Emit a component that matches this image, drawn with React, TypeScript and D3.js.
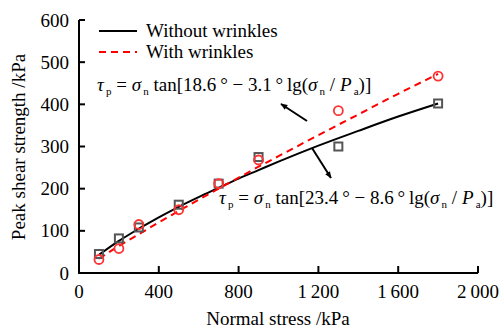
import React from 'react';
import * as d3 from 'd3';

// measured points
const stress = [100, 200, 300, 500, 700, 900, 1300, 1800];
const withoutWrinkles = [45, 82, 108, 162, 212, 275, 300, 402];
const withWrinkles = [32, 58, 115, 150, 212, 268, 385, 467];

// fitted curves
const fitStress = [100, 200, 300, 400, 500, 600, 700, 800, 900, 1000, 1200, 1400, 1600, 1800];
const fitWithout = [43, 76, 105, 132, 157, 180, 202, 224, 244, 264, 302, 337, 371, 402];
const fitWith = [34, 64, 92, 120, 147, 174, 200, 226, 252, 277, 327, 376, 425, 472];

const xTicks = [0, 400, 800, 1200, 1600, 2000];
const yTicks = [0, 100, 200, 300, 400, 500, 600];

const fmtX = (d: number) => (d >= 1000 ? `${Math.floor(d / 1000)}\u2009${String(d % 1000).padStart(3, '0')}` : `${d}`);

const W = 502, H = 329;
const m = { left: 79, right: 478, top: 20, bottom: 273 };
const font = 'Liberation Serif, Times New Roman, serif';

const Eq = ({ x, y, a, b }: { x: number; y: number; a: string; b: string }) => {
  const fs = 11, dy = 4;
  return (
    <text x={x} y={y} fontSize={19} style={{ whiteSpace: 'pre' }}>
      <tspan fontStyle="italic">τ</tspan>
      <tspan fontSize={fs} dy={dy}>{'\u2009p'}</tspan>
      <tspan dy={-dy}> = </tspan>
      <tspan fontStyle="italic">σ</tspan>
      <tspan fontSize={fs} dy={dy}>{'\u2009n'}</tspan>
      <tspan dy={-dy}>{` tan[${a}\u2009° − ${b}\u2009°\u2009lg(`}</tspan>
      <tspan fontStyle="italic">σ</tspan>
      <tspan fontSize={fs} dy={dy}>{'\u2009n'}</tspan>
      <tspan dy={-dy}>{' / '}</tspan>
      <tspan fontStyle="italic">P</tspan>
      <tspan fontSize={fs} dy={dy}>{'\u2009a'}</tspan>
      <tspan dy={-dy}>{')]'}</tspan>
    </text>
  );
};

export default function App() {
  const x = d3.scaleLinear().domain([0, 2000]).range([m.left, m.right]);
  const y = d3.scaleLinear().domain([0, 600]).range([m.bottom, m.top]);
  const line = d3.line<number>().x((d, i) => x(fitStress[i])).y(d => y(d)).curve(d3.curveMonotoneX);

  return (
    <svg width={W} height={H} style={{ position: 'absolute', left: 0, top: 0 }}>
      <defs>
        <marker id="arr" viewBox="0 0 10 10" refX="9" refY="5" markerWidth="7" markerHeight="7" orient="auto-start-reverse" markerUnits="userSpaceOnUse">
          <path d="M0,1 L10,5 L0,9 Z" fill="#000" />
        </marker>
      </defs>
      <rect width={W} height={H} fill="#fff" />
      <g fontFamily={font} fill="#000">
        {/* axes */}
        <path d={`M${m.left},${m.top}V${m.bottom}H${m.right}`} fill="none" stroke="#000" strokeWidth={2} />
        {yTicks.map(t => (
          <g key={t}>
            <line x1={m.left} x2={m.left + 6} y1={y(t)} y2={y(t)} stroke="#000" strokeWidth={2} />
            <text x={69} y={y(t) + 6.5} textAnchor="end" fontSize={19}>{t}</text>
          </g>
        ))}
        {xTicks.map(t => (
          <g key={t}>
            <line x1={x(t)} x2={x(t)} y1={m.bottom} y2={m.bottom - 7} stroke="#000" strokeWidth={2} />
            <text x={x(t)} y={298} textAnchor="middle" fontSize={19}>{fmtX(t)}</text>
          </g>
        ))}
        <text x={278} y={325} textAnchor="middle" fontSize={19}>Normal stress /kPa</text>
        <text transform={`translate(25,${147}) rotate(-90)`} textAnchor="middle" fontSize={19}>Peak shear strength /kPa</text>

        {/* fitted curves */}
        <path d={line(fitWithout) || ''} fill="none" stroke="#000" strokeWidth={2} />
        <path d={line(fitWith) || ''} fill="none" stroke="#f00" strokeWidth={2} strokeDasharray="7,5" />

        {/* points */}
        {stress.map((s, i) => (
          <rect key={'s' + i} x={x(s) - 4} y={y(withoutWrinkles[i]) - 4} width={8} height={8} fill="none" stroke="#555" strokeWidth={2} />
        ))}
        {stress.map((s, i) => (
          <circle key={'c' + i} cx={x(s)} cy={y(withWrinkles[i])} r={4.5} fill="none" stroke="#f33" strokeWidth={1.8} />
        ))}

        {/* legend */}
        <line x1={99} x2={137} y1={31} y2={31} stroke="#000" strokeWidth={2} />
        <text x={146} y={37} fontSize={19}>Without wrinkles</text>
        <line x1={99} x2={137} y1={52} y2={52} stroke="#f00" strokeWidth={2} strokeDasharray="7,5" />
        <text x={146} y={58} fontSize={19}>With wrinkles</text>

        {/* equations */}
        <Eq x={97} y={91} a="18.6" b="3.1" />
        <Eq x={219} y={204} a="23.4" b="8.6" />
        <line x1={307} y1={121} x2={281} y2={104} stroke="#000" strokeWidth={2} markerEnd="url(#arr)" />
        <line x1={312} y1={148} x2={331} y2={178} stroke="#000" strokeWidth={2} markerEnd="url(#arr)" />
      </g>
    </svg>
  );
}
